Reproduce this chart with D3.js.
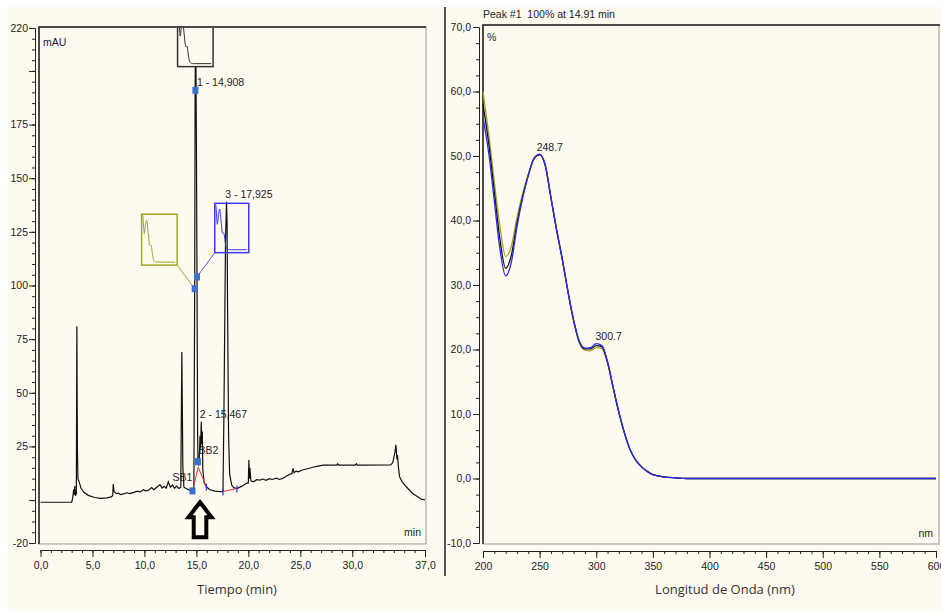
<!DOCTYPE html>
<html lang="es">
<head>
  <meta charset="UTF-8">
  <title>Cromatograma y espectro UV</title>
  <style>
    body { margin: 0; background: #fff; }
    svg { display: block; font-family: "Liberation Sans", Arial, sans-serif; }
    .tick text { font-size: 10.5px; fill: #222; }
    .tick line, .domain { stroke: #222; }
    .ax-title { font-family: "Open Sans", sans-serif; font-size: 13px; fill: #333; }
    .ann { font-size: 10.5px; fill: #222; }
  </style>
</head>
<body>
  <svg id="chart" width="941" height="612"></svg>
  <script src="https://d3js.org/d3.v7.min.js"></script>
  <script>
    // chromatogram (min, mAU)
    var chromTime = [0.0, 3.0, 3.1, 3.2, 3.25, 3.3, 3.35, 3.45, 3.5, 3.55, 3.6, 3.75, 3.9, 4.2, 4.6, 5.2, 5.8, 6.4, 6.8, 6.95,
      7.0, 7.08, 7.3, 7.5, 7.7, 8.0, 8.3, 8.6, 9.0, 9.3, 9.6, 9.9, 10.1, 10.4, 10.7, 10.9, 11.2, 11.5, 11.7, 11.9,
      12.1, 12.3, 12.5, 12.7, 12.9, 13.1, 13.3, 13.5, 13.6, 13.7, 13.8, 14.0, 14.2, 14.4, 14.62, 14.76, 14.84, 14.88, 14.91, 14.96,
      15.01, 15.06, 15.12, 15.16, 15.22, 15.3, 15.35, 15.4, 15.47, 15.52, 15.57, 15.62, 15.75, 15.96, 16.3, 16.8, 17.3, 17.56, 17.65, 17.8,
      17.9, 17.95, 18.0, 18.1, 18.2, 18.4, 18.6, 18.9, 19.4, 19.8, 20.0, 20.05, 20.1, 20.15, 20.25, 20.5, 20.8, 21.1, 21.4, 21.7,
      22.0, 22.3, 22.7, 23.0, 23.3, 23.6, 23.9, 24.2, 24.3, 24.4, 24.6, 24.8, 25.2, 25.7, 26.2, 26.7, 27.2, 28.5, 28.6, 28.7,
      30.3, 30.4, 30.5, 33.7, 33.9, 34.1, 34.2, 34.3, 34.35, 34.45, 34.55, 34.8, 35.2, 35.8, 36.3, 36.7, 37.0];
    var chromMAU = [-1.0, -1.0, 1.0, 5.0, 2.5, 6.5, 2.0, 3.0, 81, 25, 10, 8, 5.5, 3.5, 2.2, 1.2, 0.8, 1.0, 1.5, 2.0,
      7.5, 4.0, 3.0, 3.2, 2.6, 2.9, 3.4, 3.0, 3.6, 4.2, 3.8, 4.8, 4.3, 4.6, 5.8, 4.8, 6.0, 7.2, 5.6, 6.4,
      5.5, 8.5, 6.0, 7.0, 5.5, 6.5, 5.4, 6.0, 69, 15, 6.0, 5.4, 5.0, 4.6, 4.3, 6.0, 100, 190, 212, 200,
      160, 104, 30, 18, 16, 22, 30, 24, 36.5, 26, 32, 14, 8, 6.2, 4.8, 4.2, 3.9, 4.0, 40, 120,
      139, 130, 90, 30, 12, 7, 5.8, 5.4, 6.5, 7.8, 8.0, 18.7, 10, 15, 9, 8.5, 9.5, 9.3, 9.8, 9.2,
      10.0, 9.6, 10.2, 9.6, 10.1, 11.0, 11.8, 12.5, 14.8, 12.8, 13.5, 13.2, 14.0, 14.6, 15.3, 15.8, 16.3, 16.3, 16.9, 16.3,
      16.3, 16.9, 16.3, 16.4, 17.5, 22, 25.7, 19, 21, 15, 10.9, 8.5, 6.2, 3.1, 1.5, 0.3, 0.1];

    // peak markers and baseline marks
    var peakLabels = [
      {t: 14.908, v: 191, text: "1 - 14,908"},
      {t: 15.467, v: 36.5, text: "2 - 15,467"},
      {t: 17.925, v: 139, text: "3 - 17,925"}
    ];
    var markerPoints = [[14.908, 191], [14.84, 98.5], [15.06, 104], [15.15, 17.9], [14.62, 4.3]];
    var baselineRed = [[[14.62, 4.3], [15.18, 15.3], [15.96, 6.2]], [[17.56, 4.0], [18.9, 5.4]]];
    var baselineTicks = [[15.96, 6.2], [17.56, 4.0], [18.9, 5.4]];

    // UV spectra (nm, %)
    var specNm = [200, 205, 210, 215, 220, 225, 230, 235, 240, 245, 250, 255, 260, 265, 270, 275, 280, 285, 290, 295,
      300, 305, 310, 315, 320, 325, 330, 335, 340, 345, 350, 360, 370, 380, 400, 450, 500, 550, 600];
    var specOlive = [60.0, 53.5, 46.0, 39.0, 34.4, 36.0, 40.5, 44.2, 47.2, 49.6, 50.2, 48.4, 43.5, 38.5, 34.0, 29.0, 24.4, 21.0, 19.9, 19.8,
      20.3, 20.1, 17.8, 14.0, 10.2, 7.0, 4.4, 2.8, 1.8, 1.1, 0.6, 0.25, 0.1, 0.0, 0.0, 0.0, 0.0, 0.0, 0.0];
    var specBlack = [58.0, 52.0, 44.5, 37.0, 32.6, 34.6, 39.6, 43.7, 47.0, 49.6, 50.2, 48.5, 43.5, 38.5, 34.0, 29.0, 24.5, 21.2, 20.1, 20.1,
      20.6, 20.4, 18.0, 14.0, 10.2, 7.0, 4.4, 2.8, 1.8, 1.1, 0.6, 0.25, 0.1, 0.0, 0.0, 0.0, 0.0, 0.0, 0.0];
    var specBlue = [56.0, 50.5, 43.0, 35.5, 31.4, 33.5, 39.0, 43.5, 47.0, 49.6, 50.3, 48.6, 43.6, 38.6, 34.0, 29.0, 24.6, 21.3, 20.2, 20.3,
      20.9, 20.6, 18.1, 14.1, 10.3, 7.0, 4.4, 2.8, 1.8, 1.1, 0.6, 0.25, 0.1, 0.0, 0.0, 0.0, 0.0, 0.0, 0.0];
    var specMaxima = [{nm: 248.7, v: 50.3}, {nm: 300.7, v: 21.0}];

    // ticks
    var leftXMajor = [0, 5, 10, 15, 20, 25, 30, 37];
    var leftYMajor = [-20, 0, 25, 50, 75, 100, 125, 150, 175, 200, 220];
    var leftYLabelled = [-20, 25, 50, 75, 100, 125, 150, 175, 220];
    var rightXMajor = [200, 250, 300, 350, 400, 450, 500, 550, 600];
    var rightYMajor = [-10, 0, 10, 20, 30, 40, 50, 60, 70];

    var cream = "#fefaf0";
    var olive = "#a3a32a";
    var blue = "#2a2af0";
    var markBlue = "#3a6ecf";
    var comma = d => d.toFixed(1).replace(".", ",");

    var svg = d3.select("#chart");
    svg.append("rect").attr("x", 8).attr("y", 7).attr("width", 933).attr("height", 604).attr("fill", cream);
    svg.append("line").attr("x1", 445).attr("x2", 445).attr("y1", 7).attr("y2", 576)
      .attr("stroke", "#555").attr("stroke-width", 2);

    // ---------- left: chromatogram ----------
    var xL = d3.scaleLinear().domain([0, 37]).range([40.5, 425]);
    var yL = d3.scaleLinear().domain([-20, 220]).range([543, 28]);

    svg.append("rect").attr("x", 39).attr("y", 27).attr("width", 387).attr("height", 517)
      .attr("fill", "none").attr("stroke", "#9a9a9a");
    svg.append("path").attr("d", "M39,544V27H426").attr("fill", "none").attr("stroke", "#222").attr("stroke-width", 1.5);

    svg.append("clipPath").attr("id", "clipL")
      .append("rect").attr("x", 40).attr("y", 28).attr("width", 385).attr("height", 515);

    svg.append("g").attr("transform", "translate(35,0)")
      .call(d3.axisLeft(yL).tickValues(d3.range(-20, 221, 5)).tickSize(3).tickFormat("").tickSizeOuter(0));
    svg.append("g").attr("transform", "translate(35,0)")
      .call(d3.axisLeft(yL).tickValues(leftYMajor).tickSize(6).tickPadding(1).tickSizeOuter(0)
        .tickFormat(d => leftYLabelled.includes(d) ? d : ""));
    svg.append("g").attr("transform", "translate(0,550)")
      .call(d3.axisBottom(xL).tickValues(d3.range(0, 38, 1)).tickSize(3).tickFormat("").tickSizeOuter(0));
    svg.append("g").attr("transform", "translate(0,550)")
      .call(d3.axisBottom(xL).tickValues(leftXMajor).tickSize(7).tickPadding(5).tickFormat(comma).tickSizeOuter(0));

    var plotL = svg.append("g").attr("clip-path", "url(#clipL)");
    var chromLine = d3.line().x(d => xL(d[0])).y(d => yL(d[1]));
    plotL.append("path")
      .datum(chromTime.map((t, i) => [t, chromMAU[i]]))
      .attr("d", chromLine).attr("fill", "none").attr("stroke", "#111").attr("stroke-width", 1.2);

    baselineRed.forEach(seg => {
      plotL.append("path").datum(seg).attr("d", chromLine)
        .attr("fill", "none").attr("stroke", "#e8322a").attr("stroke-width", 1);
    });
    plotL.selectAll(".bt").data(baselineTicks).enter().append("line")
      .attr("x1", d => xL(d[0])).attr("x2", d => xL(d[0]))
      .attr("y1", d => yL(d[1]) - 3).attr("y2", d => yL(d[1]) + 4)
      .attr("stroke", "#3030ff").attr("stroke-width", 1.2);

    // spectrum thumbnails
    function thumb(t0, t1, vTop, vBot, series, color, filled) {
      var bx = xL(t0), by = yL(vTop), bw = xL(t1) - xL(t0), bh = yL(vBot) - yL(vTop);
      var id = "th" + Math.round(t0 * 100);
      plotL.append("clipPath").attr("id", id)
        .append("rect").attr("x", bx).attr("y", by).attr("width", bw).attr("height", bh);
      plotL.append("rect").attr("x", bx).attr("y", by).attr("width", bw).attr("height", bh)
        .attr("fill", filled ? cream : "none").attr("stroke", color).attr("stroke-width", 1.5);
      var mx = d3.scaleLinear().domain([200, 600]).range([bx + 1, bx + bw - 2]);
      var my = d3.scaleLinear().domain([0, 55]).range([by + bh - 3, by + 2]);
      plotL.append("path").attr("clip-path", "url(#" + id + ")")
        .datum(specNm.map((n, i) => [n, series[i]]))
        .attr("d", d3.line().x(d => mx(d[0])).y(d => my(d[1])))
        .attr("fill", "none").attr("stroke", color).attr("stroke-width", 1);
    }
    thumb(13.19, 16.61, 226, 202, specBlack, "#333", true);
    thumb(9.73, 13.15, 133.2, 109.5, specOlive, olive, false);
    thumb(16.77, 20.04, 138.3, 115.3, specBlue, "#3b3bf0", false);

    plotL.append("line").attr("x1", xL(13.15)).attr("y1", yL(109.5)).attr("x2", xL(14.84)).attr("y2", yL(98.5))
      .attr("stroke", olive).attr("stroke-width", 1);
    plotL.append("line").attr("x1", xL(16.77)).attr("y1", yL(115.3)).attr("x2", xL(15.06)).attr("y2", yL(104))
      .attr("stroke", "#5a5af5").attr("stroke-width", 1);

    plotL.selectAll(".mk").data(markerPoints).enter().append("rect")
      .attr("x", d => xL(d[0]) - 3).attr("y", d => yL(d[1]) - 3.5)
      .attr("width", 6).attr("height", 7).attr("fill", markBlue);

    plotL.selectAll(".pl").data(peakLabels).enter().append("text").attr("class", "ann")
      .attr("x", d => xL(d.t) + (d.t < 15 ? 1.5 : -1.5)).attr("y", d => yL(d.v) + (d.t < 15 ? -4 : -4))
      .text(d => d.text);
    plotL.append("text").attr("class", "ann").attr("x", xL(15.15) + 0.5).attr("y", yL(17.9) - 8).text("BB2");
    plotL.append("text").attr("class", "ann").attr("text-anchor", "end")
      .attr("x", xL(14.62)).attr("y", yL(4.3) - 10).text("SB1");

    plotL.append("text").attr("class", "ann").attr("x", 43).attr("y", 46).attr("font-size", "10px").text("mAU");
    plotL.append("text").attr("class", "ann").attr("x", 421).attr("y", 536).attr("text-anchor", "end").text("min");

    // hollow arrow under peak 2
    var ax = xL(15.35), ay = yL(-1);
    plotL.append("path")
      .attr("d", `M${ax},${ay}L${ax + 11.5},${ay + 15}H${ax + 6.3}V${ay + 35}H${ax - 6.3}V${ay + 15}H${ax - 11.5}Z`)
      .attr("fill", cream).attr("stroke", "#000").attr("stroke-width", 4).attr("stroke-linejoin", "miter");

    svg.append("text").attr("class", "ax-title").attr("x", 237).attr("y", 594).attr("text-anchor", "middle")
      .text("Tiempo (min)");

    // ---------- right: UV spectrum ----------
    var xR = d3.scaleLinear().domain([200, 600]).range([483, 936]);
    var yR = d3.scaleLinear().domain([-10, 70]).range([543, 27]);

    svg.append("rect").attr("x", 483).attr("y", 25).attr("width", 456).attr("height", 519)
      .attr("fill", "none").attr("stroke", "#9a9a9a");
    svg.append("path").attr("d", "M483,544V25H940").attr("fill", "none").attr("stroke", "#222").attr("stroke-width", 1.5);

    svg.append("g").attr("transform", "translate(479,0)")
      .call(d3.axisLeft(yR).tickValues(d3.range(-10, 70.1, 2.5)).tickSize(3).tickFormat("").tickSizeOuter(0));
    svg.append("g").attr("transform", "translate(479,0)")
      .call(d3.axisLeft(yR).tickValues(rightYMajor).tickSize(6).tickPadding(2).tickFormat(comma).tickSizeOuter(0));
    svg.append("g").attr("transform", "translate(0,551)")
      .call(d3.axisBottom(xR).tickValues(d3.range(200, 601, 10)).tickSize(3).tickFormat("").tickSizeOuter(0));
    svg.append("g").attr("transform", "translate(0,551)")
      .call(d3.axisBottom(xR).tickValues(rightXMajor).tickSize(7).tickPadding(5).tickSizeOuter(0));

    var specLine = d3.line().curve(d3.curveMonotoneX).x(d => xR(d[0])).y(d => yR(d[1]));
    [[specOlive, olive], [specBlack, "#111"], [specBlue, blue]].forEach(s => {
      svg.append("path").datum(specNm.map((n, i) => [n, s[0][i]]))
        .attr("d", specLine).attr("fill", "none").attr("stroke", s[1]).attr("stroke-width", 1.3);
    });

    svg.selectAll(".mx").data(specMaxima).enter().append("text").attr("class", "ann")
      .attr("x", d => xR(d.nm) - 1.5).attr("y", d => yR(d.v) - 3.5).text(d => d.nm.toFixed(1));

    svg.append("text").attr("class", "ann").attr("x", 483).attr("y", 18).attr("font-size", "10px")
      .attr("xml:space", "preserve").text("Peak #1  100% at 14.91 min");
    svg.append("text").attr("class", "ann").attr("x", 487).attr("y", 41).attr("font-size", "10px").text("%");
    svg.append("text").attr("class", "ann").attr("x", 933).attr("y", 537).attr("text-anchor", "end").text("nm");

    svg.append("text").attr("class", "ax-title").attr("x", 725).attr("y", 594).attr("text-anchor", "middle")
      .text("Longitud de Onda (nm)");
  </script>
</body>
</html>
